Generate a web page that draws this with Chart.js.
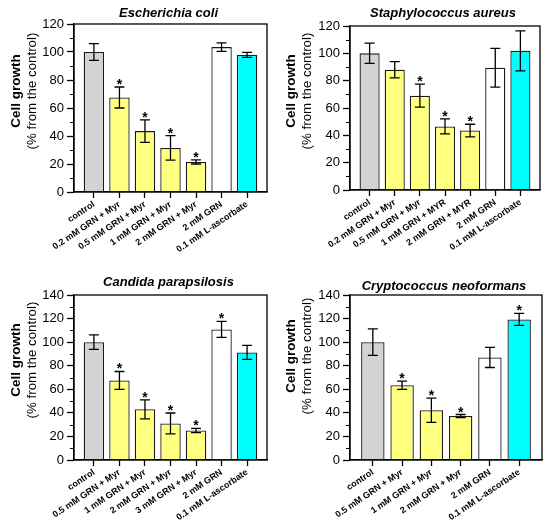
<!DOCTYPE html>
<html>
<head>
<meta charset="utf-8">
<script src="https://cdn.jsdelivr.net/npm/chart.js@4.4.0/dist/chart.umd.min.js"></script>
<style>
  html, body { margin: 0; padding: 0; background: #fff; }
  #wrap { position: relative; width: 550px; height: 528px; }
  .tile { position: absolute; width: 275px; height: 264px; }
</style>
</head>
<body>
<div id="wrap">
  <div class="tile" style="left:0;top:0"><canvas id="c1" width="275" height="264"></canvas></div>
  <div class="tile" style="left:275px;top:0"><canvas id="c2" width="275" height="264"></canvas></div>
  <div class="tile" style="left:0;top:264px"><canvas id="c3" width="275" height="264"></canvas></div>
  <div class="tile" style="left:275px;top:264px"><canvas id="c4" width="275" height="264"></canvas></div>
</div>
<script>
// ---------- DATA ----------
const titleEcoli = 'Escherichia coli';
const catsEcoli = ['control', '0.2 mM GRN + Myr', '0.5 mM GRN + Myr', '1 mM GRN + Myr', '2 mM GRN + Myr', '2 mM GRN', '0.1 mM L-ascorbate'];
const valsEcoli = [100, 67.5, 43.5, 31.5, 21.5, 103.5, 98];
const errsEcoli = [6, 7.5, 8, 8.7, 1.5, 3, 1.8];
const sigEcoli  = [false, true, true, true, true, false, false];

const titleSaureus = 'Staphylococcus aureus';
const catsSaureus = ['control', '0.2 mM GRN + Myr', '0.5 mM GRN + Myr', '1 mM GRN + MYR', '2 mM GRN + MYR', '2 mM GRN', '0.1 mM L-ascorbate'];
const valsSaureus = [100, 88, 69, 46.5, 43.5, 89.5, 101.8];
const errsSaureus = [7.4, 6, 8.4, 5.5, 4.6, 14.2, 14.6];
const sigSaureus  = [false, false, true, true, true, false, false];

const titleCandida = 'Candida parapsilosis';
const catsCandida = ['control', '0.5 mM GRN + Myr', '1 mM GRN + Myr', '2 mM GRN + Myr', '3 mM GRN + Myr', '2 mM GRN', '0.1 mM L-ascorbate'];
const valsCandida = [100, 67.5, 43, 31, 25, 110.8, 91.3];
const errsCandida = [6.2, 7.6, 8.1, 8.9, 1.8, 6.8, 5.9];
const sigCandida  = [false, true, true, true, true, true, false];

const titleCrypto = 'Cryptococcus neoformans';
const catsCrypto = ['control', '0.5 mM GRN + Myr', '1 mM GRN + Myr', '2 mM GRN + Myr', '2 mM GRN', '0.1 mM L-ascorbate'];
const valsCrypto = [100, 63.5, 42.2, 37.3, 87, 119.3];
const errsCrypto = [11.2, 3.5, 10.3, 1.3, 8.5, 5.1];
const sigCrypto  = [false, true, true, true, false, true];

const yTitleBold = 'Cell growth';
const yTitleNormal = '(% from the control)';

// ---------- STYLE ----------
const FONT = "'Liberation Sans', Arial, Helvetica, sans-serif";
const GRAY = '#d3d3d3', YELLOW = '#ffff80', WHITE = '#ffffff', CYAN = '#00ffff';
function colorFor(cat) {
  if (cat === 'control') return GRAY;
  if (cat.indexOf('+') >= 0) return YELLOW;
  if (cat.indexOf('ascorbate') >= 0) return CYAN;
  return WHITE;
}

function makePanel(id, title, cats, vals, errs, sig, yMax, g) {
  const n = cats.length;
  const extras = {
    id: 'extras',
    afterDatasetsDraw(chart) {
      const ctx = chart.ctx;
      const xs = chart.scales.x, ys = chart.scales.y;
      const a = chart.chartArea;
      ctx.save();
      // minor ticks
      ctx.strokeStyle = '#000';
      ctx.lineWidth = 1.2;
      ctx.beginPath();
      for (let v = 10; v < yMax; v += 20) {
        const y = Math.round(ys.getPixelForValue(v)) + 0.5;
        ctx.moveTo(a.left - 4, y);
        ctx.lineTo(a.left, y);
      }
      ctx.stroke();
      // frame
      ctx.lineWidth = 1.3;
      ctx.strokeRect(a.left, a.top, a.right - a.left, a.bottom - a.top);
      // error bars + asterisks
      ctx.lineWidth = 1.3;
      ctx.fillStyle = '#000';
      ctx.font = 'bold 14px ' + FONT;
      ctx.textAlign = 'center';
      ctx.textBaseline = 'alphabetic';
      const m = ctx.measureText('*');
      const desc = m.actualBoundingBoxDescent || -5;
      for (let i = 0; i < n; i++) {
        const x = xs.getPixelForValue(i);
        const yT = ys.getPixelForValue(vals[i] + errs[i]);
        const yB = ys.getPixelForValue(vals[i] - errs[i]);
        ctx.beginPath();
        ctx.moveTo(x, yT); ctx.lineTo(x, yB);
        ctx.moveTo(x - 5, yT); ctx.lineTo(x + 5, yT);
        ctx.moveTo(x - 5, yB); ctx.lineTo(x + 5, yB);
        ctx.stroke();
        if (sig[i]) {
          ctx.fillText('*', x, yT - 2 - desc);
        }
      }
      // title
      ctx.font = 'italic bold 13px ' + FONT;
      ctx.textBaseline = 'middle';
      ctx.fillText(title, (a.left + a.right) / 2 - 2, g.titleY);
      // y titles
      ctx.translate(0, g.yTitleY);
      ctx.rotate(-Math.PI / 2);
      ctx.font = 'bold 13.5px ' + FONT;
      ctx.fillText(yTitleBold, 0, 16);
      ctx.font = '13.3px ' + FONT;
      ctx.fillText(yTitleNormal, 0, 32);
      ctx.restore();
    }
  };

  return new Chart(document.getElementById(id), {
    type: 'bar',
    data: {
      datasets: [{
        data: vals.map((v, i) => ({ x: i, y: v })),
        backgroundColor: cats.map(colorFor),
        borderColor: '#1a1a1a',
        borderWidth: 1.3,
        categoryPercentage: 1,
        barPercentage: 0.8
      }]
    },
    options: {
      responsive: false,
      animation: false,
      devicePixelRatio: 1,
      layout: { padding: { top: g.top, right: 275 - g.right, left: 0, bottom: 0 } },
      plugins: { legend: { display: false }, tooltip: { enabled: false }, title: { display: false } },
      scales: {
        x: {
          type: 'linear',
          offset: false,
          min: -0.78,
          max: n - 1 + 0.78,
          afterBuildTicks: s => { s.ticks = cats.map((c, i) => ({ value: i })); },
          afterFit: s => { s.height = 264 - g.bottom; },
          ticks: {
            callback: v => cats[v] !== undefined ? cats[v] : '',
            autoSkip: false,
            minRotation: 34,
            maxRotation: 34,
            padding: 1,
            color: '#000',
            font: { family: FONT, size: 9, weight: 'bold' }
          },
          grid: { offset: false, drawOnChartArea: false, drawTicks: true, tickLength: 6, tickColor: '#000', tickWidth: 1.3 },
          border: { display: true, color: '#000', width: 1.3 }
        },
        y: {
          min: 0,
          max: yMax,
          afterFit: s => { s.width = g.left; },
          ticks: {
            stepSize: 20,
            padding: 3,
            color: '#000',
            font: { family: FONT, size: 13 }
          },
          grid: { drawOnChartArea: false, drawTicks: true, tickLength: 7, tickColor: '#000', tickWidth: 1.3 },
          border: { display: true, color: '#000', width: 1.3 }
        }
      }
    },
    plugins: [extras]
  });
}

makePanel('c1', titleEcoli, catsEcoli, valsEcoli, errsEcoli, sigEcoli, 120,
  { left: 74, right: 267, top: 24, bottom: 192, titleY: 13, yTitleY: 91 });
makePanel('c2', titleSaureus, catsSaureus, valsSaureus, errsSaureus, sigSaureus, 120,
  { left: 75, right: 265, top: 26, bottom: 190, titleY: 13.5, yTitleY: 91 });
makePanel('c3', titleCandida, catsCandida, valsCandida, errsCandida, sigCandida, 140,
  { left: 74, right: 267, top: 31, bottom: 196, titleY: 18.5, yTitleY: 96 });
makePanel('c4', titleCrypto, catsCrypto, valsCrypto, errsCrypto, sigCrypto, 140,
  { left: 75, right: 267, top: 31, bottom: 196, titleY: 22, yTitleY: 92 });
</script>
</body>
</html>
